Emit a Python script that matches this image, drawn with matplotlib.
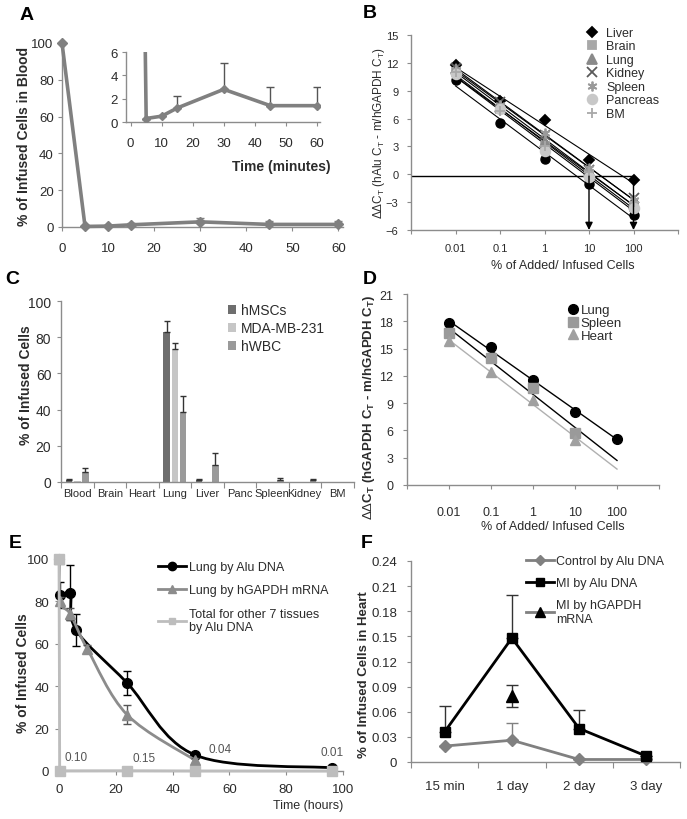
import numpy as np
import matplotlib
matplotlib.use('Agg')
import matplotlib.pyplot as plt
from matplotlib import font_manager
from matplotlib.path import Path
from matplotlib.patches import PathPatch, Patch
from matplotlib.lines import Line2D
from matplotlib.ticker import FixedLocator, NullLocator, FuncFormatter

plt.rcParams['font.family'] = ['Liberation Sans', 'DejaVu Sans']
plt.rcParams['mathtext.fontset'] = 'custom'
plt.rcParams['mathtext.rm'] = 'Liberation Sans'
plt.rcParams['mathtext.it'] = 'Liberation Sans:italic'
plt.rcParams['mathtext.bf'] = 'Liberation Sans:bold'

try:
    font_manager.findfont('Liberation Sans Narrow', fallback_to_default=False)
    NARROW = 'Liberation Sans Narrow'
    NARROW_FS = 9.3
except Exception:
    NARROW = 'Liberation Sans'
    NARROW_FS = 8

# ---------------- data ----------------
# A
time_a = [0, 5, 10, 15, 30, 45, 60]
blood_a = [100, 0.3, 0.5, 1.2, 2.8, 1.4, 1.4]
blood_err_a = [0, 0, 0, 1.0, 2.3, 1.6, 1.6]

# B
pct_b = [0.01, 0.1, 1, 10, 100]
liver_b = [11.8, 7.9, 5.8, 1.5, -0.6]
brain_b = [11.0, 7.0, 3.0, 0.0, -3.5]
lung_b = [11.3, 7.2, 3.5, 0.3, -3.2]
kidney_b = [11.5, 7.8, 4.2, 0.5, -2.5]
spleen_b = [11.2, 7.5, 4.5, 0.7, -2.8]
pancreas_b = [10.8, 7.0, 2.5, -0.3, -3.6]
bm_b = [11.0, 6.8, 3.0, 0.2, -3.0]
unlabeled_b = [10.2, 5.5, 1.6, -1.0, -4.4]
cutoff_b = -0.2
arrow_x_b = [10, 100]

# C
cats_c = ['Blood', 'Brain', 'Heart', 'Lung', 'Liver', 'Panc', 'Spleen', 'Kidney', 'BM']
hmsc_c = [1.0, 0, 0, 83.0, 1.0, 0, 0, 0, 0]
hmsc_err_c = [0.6, 0, 0, 6.0, 0.6, 0, 0, 0, 0]
mda_c = [0.5, 0, 0, 73.5, 0, 0, 0, 0, 0]
mda_err_c = [0, 0, 0, 3.5, 0, 0, 0, 0, 0]
hwbc_c = [5.5, 0, 0, 38.5, 9.5, 0, 1.0, 1.0, 0]
hwbc_err_c = [2.5, 0, 0, 9.0, 6.5, 0, 1.2, 0.6, 0]

# D
pct_d = [0.01, 0.1, 1, 10, 100]
lung_d = [17.8, 15.2, 11.5, 8.0, 5.1]
spleen_d = [16.7, 14.0, 10.7, 5.7]
heart_d = [15.8, 12.4, 9.3, 5.0]

# E
t_alu_e = [0, 0.25, 4, 6, 24, 48, 96]
lung_alu_e = [100, 83, 84, 66.5, 41.5, 7.5, 1.5]
lung_alu_err_e = [0, 6, 13, 7.5, 5.5, 1, 0.5]
t_gapdh_e = [0, 0.25, 4, 10, 24, 48]
lung_gapdh_e = [100, 80, 74, 57.5, 26.5, 5]
lung_gapdh_err_e = [0, 2, 3, 2, 4.5, 1]
t_total_e = [0, 0.25, 24, 48, 96]
total_e = [100, 0.10, 0.15, 0.04, 0.01]

# F
cats_f = ['15 min', '1 day', '2 day', '3 day']
control_f = [0.019, 0.026, 0.003, 0.003]
control_err_f = [0, 0.020, 0, 0]
mi_alu_f = [0.036, 0.148, 0.040, 0.007]
mi_alu_err_f = [0.031, 0.052, 0.022, 0]
mi_gapdh_f = [np.nan, 0.079, np.nan, np.nan]
mi_gapdh_err_f = [0, 0.013, 0, 0]

# ---------------- helpers ----------------
W, H = 687, 820
fig = plt.figure(figsize=(6.87, 8.2), dpi=100)
SPINE = '#8c8c8c'
TXT = '#2b2b2b'


def add_ax(x0, x1, y_top, y_bot):
    return fig.add_axes([x0 / W, 1 - y_bot / H, (x1 - x0) / W, (y_bot - y_top) / H])


def style(ax, fs, xpad=4, ypad=3):
    for s in ['top', 'right']:
        ax.spines[s].set_visible(False)
    for s in ['left', 'bottom']:
        ax.spines[s].set_color(SPINE)
        ax.spines[s].set_linewidth(1.0)
    ax.tick_params(colors=SPINE, labelcolor=TXT, labelsize=fs, length=3, width=0.8, direction='out')
    ax.tick_params(axis='x', pad=xpad)
    ax.tick_params(axis='y', pad=ypad)
    ax.set_facecolor('none')


def ftext(x, y, s, **kw):
    kw.setdefault('color', TXT)
    fig.text(x / W, 1 - y / H, s, **kw)


def smooth_path(x, y):
    x = np.asarray(x, float)
    y = np.asarray(y, float)
    n = len(x)
    verts = [(x[0], y[0])]
    codes = [Path.MOVETO]
    for i in range(n - 1):
        p0 = np.array([x[max(i - 1, 0)], y[max(i - 1, 0)]])
        p1 = np.array([x[i], y[i]])
        p2 = np.array([x[i + 1], y[i + 1]])
        p3 = np.array([x[min(i + 2, n - 1)], y[min(i + 2, n - 1)]])
        c1 = p1 + (p2 - p0) / 6.0
        c2 = p2 - (p3 - p1) / 6.0
        verts += [tuple(c1), tuple(c2), tuple(p2)]
        codes += [Path.CURVE4] * 3
    return Path(verts, codes)


def upper_err(vals):
    return [np.zeros(len(vals)), vals]


# ---------------- panel A ----------------
axA = add_ax(62, 343, 44, 228)
style(axA, 9.5, xpad=8, ypad=3)
axA.errorbar(time_a, blood_a, yerr=upper_err(blood_err_a), color='#808080', lw=2.6,
             marker='D', ms=5, ecolor='#808080', elinewidth=1.2, capsize=3, clip_on=False, zorder=3)
axA.set_xlim(0, 61)
axA.set_ylim(0, 100)
axA.set_xticks(range(0, 61, 10))
axA.set_yticks(range(0, 101, 20))

axAi = add_ax(126, 320, 53, 123)
style(axAi, 9.5, xpad=8, ypad=3)
axAi.errorbar(time_a, blood_a, yerr=upper_err(blood_err_a), color='#808080', lw=2.6,
              marker='D', ms=4.5, ecolor='#555555', elinewidth=1.0, capsize=3, zorder=3)
axAi.set_xlim(-1.5, 61)
axAi.set_ylim(0, 6)
axAi.set_xticks(range(0, 61, 10))
axAi.set_yticks([0, 2, 4, 6])
ftext(281, 167, 'Time (minutes)', ha='center', va='center', fontsize=10, fontweight='bold')
ftext(24, 136, '% of Infused Cells in Blood', rotation=90, ha='center', va='center',
      fontsize=10, fontweight='bold')

# ---------------- panel B ----------------
axB = add_ax(411, 678, 36, 231)
style(axB, 8, xpad=6, ypad=6)
axB.set_xscale('log')
series_b = [
    (liver_b, 'Liver', 'D', 'black', 5.5),
    (brain_b, 'Brain', 's', '#a8a8a8', 5.5),
    (lung_b, 'Lung', '^', '#8a8a8a', 6.5),
    (kidney_b, 'Kidney', 'x', '#5a5a5a', 7),
    (spleen_b, 'Spleen', (6, 2, 0), '#9a9a9a', 7),
    (pancreas_b, 'Pancreas', 'o', '#c8c8c8', 7),
    (bm_b, 'BM', '+', '#a8a8a8', 7),
]
lx = np.log10(pct_b)
xs_b = np.array([pct_b[0], pct_b[-1]])
for vals in [v[0] for v in series_b] + [unlabeled_b]:
    coef = np.polyfit(lx, vals, 1)
    axB.plot(xs_b, np.polyval(coef, np.log10(xs_b)), color='black', lw=0.8, zorder=2)
handles_b = []
axB.plot(pct_b, unlabeled_b, 'o', color='black', ms=6.5, zorder=3, clip_on=False)
for vals, lab, mk, col, ms in series_b:
    axB.plot(pct_b, vals, linestyle='none', marker=mk, color=col, ms=ms, mew=1.3, zorder=3,
             clip_on=False)
    handles_b.append(Line2D([], [], linestyle='none', marker=mk, color=col, ms=ms, mew=1.3, label=lab))
axB.plot([1e-3, arrow_x_b[-1]], [cutoff_b, cutoff_b], color='black', lw=1.0, zorder=2)
for xa in arrow_x_b:
    axB.annotate('', xy=(xa, -6), xytext=(xa, cutoff_b),
                 arrowprops=dict(arrowstyle='-|>', color='black', lw=1.0, mutation_scale=11,
                                 shrinkA=0, shrinkB=0), annotation_clip=False, zorder=4)
axB.set_xlim(1e-3, 1e3)
axB.set_ylim(-6, 15)
axB.xaxis.set_major_locator(FixedLocator([1e-3, 1e-2, 1e-1, 1, 10, 100, 1e3]))
axB.xaxis.set_minor_locator(NullLocator())
axB.set_xticklabels(['', '0.01', '0.1', '1', '10', '100', ''])
axB.set_yticks(range(-6, 16, 3))
axB.legend(handles=handles_b, loc='upper left', bbox_to_anchor=(586 / W, 1 - 28 / H),
           bbox_transform=fig.transFigure, frameon=False, fontsize=9, handlelength=1.0,
           handletextpad=0.6, labelspacing=0.12, borderpad=0, borderaxespad=0,
           labelcolor=TXT)
ftext(563, 266, '% of Added/ Infused Cells', ha='center', va='center', fontsize=9)
ftext(379, 133, r'$\Delta\Delta$C$_\mathrm{T}$ (hAlu C$_\mathrm{T}$ - m/hGAPDH C$_\mathrm{T}$)',
      rotation=90, ha='center', va='center', fontsize=8.5)

# ---------------- panel C ----------------
axC = add_ax(61, 353.5, 302, 483)
style(axC, 10, xpad=3, ypad=4)
xc = np.arange(len(cats_c))
bw = 0.2
cols_c = ['#6e6e6e', '#c6c6c6', '#9a9a9a']
labs_c = ['hMSCs', 'MDA-MB-231', 'hWBC']
for off, vals, errs, col in zip([-0.25, 0, 0.25], [hmsc_c, mda_c, hwbc_c],
                               [hmsc_err_c, mda_err_c, hwbc_err_c], cols_c):
    axC.bar(xc + off, vals, width=bw, color=col, zorder=2)
    e = np.array(errs, float)
    m = e > 0
    axC.errorbar((xc + off)[m], np.array(vals)[m], yerr=upper_err(e[m]), fmt='none',
                 ecolor='#333333', elinewidth=1.0, capsize=2.5, zorder=3)
axC.set_xlim(-0.5, len(cats_c) - 0.5)
axC.set_ylim(0, 100)
axC.set_yticks(range(0, 101, 20))
axC.set_xticks(xc)
axC.set_xticklabels(cats_c, family=[NARROW, 'DejaVu Sans'], fontsize=NARROW_FS)
axC.tick_params(axis='x', which='major', length=0, pad=4)
axC.xaxis.set_minor_locator(FixedLocator(np.arange(-0.5, len(cats_c), 1.0)))
axC.tick_params(axis='x', which='minor', length=4, color=SPINE, width=0.8)
handles_c = [Patch(facecolor=c, label=l) for c, l in zip(cols_c, labs_c)]
axC.legend(handles=handles_c, loc='upper left', bbox_to_anchor=(228 / W, 1 - 304 / H),
           bbox_transform=fig.transFigure, frameon=False, fontsize=10, handlelength=0.6,
           handleheight=0.6, handletextpad=0.3, labelspacing=0.3, borderpad=0,
           borderaxespad=0, labelcolor=TXT)
ftext(26, 385, '% of Infused Cells', rotation=90, ha='center', va='center',
      fontsize=10, fontweight='bold')

# ---------------- panel D ----------------
axD = add_ax(407, 659, 295, 486)
style(axD, 9, xpad=12, ypad=7)
axD.set_xscale('log')
xs_d = np.array([pct_d[0], pct_d[-1]])
for vals, col in [(lung_d, 'black'), (spleen_d, 'black'), (heart_d, '#b0b0b0')]:
    coef = np.polyfit(np.log10(pct_d[:len(vals)]), vals, 1)
    axD.plot(xs_d, np.polyval(coef, np.log10(xs_d)), color=col, lw=1.0, zorder=2)
handles_d = []
for vals, lab, mk, col, ms in [(lung_d, 'Lung', 'o', 'black', 7),
                               (spleen_d, 'Spleen', 's', '#9a9a9a', 6.5),
                               (heart_d, 'Heart', '^', '#a0a0a0', 7.5)]:
    axD.plot(pct_d[:len(vals)], vals, linestyle='none', marker=mk, color=col, ms=ms, zorder=3)
    handles_d.append(Line2D([], [], linestyle='none', marker=mk, color=col, ms=ms, label=lab))
axD.set_xlim(1e-3, 1e3)
axD.set_ylim(0, 21)
axD.xaxis.set_major_locator(FixedLocator([1e-3, 1e-2, 1e-1, 1, 10, 100, 1e3]))
axD.xaxis.set_minor_locator(NullLocator())
axD.set_xticklabels(['', '0.01', '0.1', '1', '10', '100', ''])
axD.set_yticks(range(0, 22, 3))
axD.legend(handles=handles_d, loc='upper left', bbox_to_anchor=(568 / W, 1 - 305 / H),
           bbox_transform=fig.transFigure, frameon=False, fontsize=9.5, handlelength=0.8,
           handletextpad=0.15, labelspacing=0.05, borderpad=0, borderaxespad=0,
           labelcolor=TXT)
ftext(553, 527, '% of Added/ Infused Cells', ha='center', va='center', fontsize=9)
ftext(369, 407, r'$\Delta\Delta$C$_\mathbf{T}$ (hGAPDH C$_\mathbf{T}$ - m/hGAPDH C$_\mathbf{T}$)',
      rotation=90, ha='center', va='center', fontsize=9.5, fontweight='bold')

# ---------------- panel E ----------------
axE = add_ax(59, 343, 560, 772)
style(axE, 9.5, xpad=6, ypad=4)
c_alu, c_gapdh, c_total = 'black', '#8c8c8c', '#bdbdbd'
axE.add_patch(PathPatch(smooth_path(t_alu_e, lung_alu_e), facecolor='none', edgecolor=c_alu,
                        lw=2.0, zorder=2))
axE.errorbar(t_alu_e, lung_alu_e, yerr=lung_alu_err_e, fmt='none', ecolor=c_alu,
             elinewidth=1.0, capsize=3, zorder=2)
axE.plot(t_alu_e, lung_alu_e, linestyle='none', marker='o', color=c_alu, ms=7, zorder=3,
         clip_on=False)
axE.add_patch(PathPatch(smooth_path(t_gapdh_e, lung_gapdh_e), facecolor='none',
                        edgecolor=c_gapdh, lw=2.0, zorder=4))
axE.errorbar(t_gapdh_e, lung_gapdh_e, yerr=lung_gapdh_err_e, fmt='none', ecolor='#555555',
             elinewidth=1.0, capsize=3, zorder=4)
axE.plot(t_gapdh_e, lung_gapdh_e, linestyle='none', marker='^', color=c_gapdh, ms=7, zorder=5,
         clip_on=False)
axE.plot(t_total_e, total_e, color=c_total, lw=2.0, marker='s', ms=6.5, zorder=6, clip_on=False)
offsets_e = [(12, 10), (12, 9), (18, 16), (0, 14)]
for xv, yv, off in zip(t_total_e[1:], total_e[1:], offsets_e):
    axE.annotate(f'{yv:.2f}', xy=(xv, yv), xytext=off, textcoords='offset points',
                 ha='center', va='center', fontsize=8.5, color='#555555')
axE.set_xlim(0, 100)
axE.set_ylim(0, 100)
axE.set_xticks(range(0, 101, 20))
axE.set_yticks(range(0, 101, 20))
handles_e = [
    Line2D([], [], color=c_alu, lw=2, marker='o', ms=6, label='Lung by Alu DNA'),
    Line2D([], [], color=c_gapdh, lw=2, marker='^', ms=6, label='Lung by hGAPDH mRNA'),
    Line2D([], [], color=c_total, lw=2, marker='s', ms=5,
           label='Total for other 7 tissues\nby Alu DNA'),
]
axE.legend(handles=handles_e, loc='upper left', bbox_to_anchor=(158 / W, 1 - 562 / H),
           bbox_transform=fig.transFigure, frameon=False, fontsize=9, handlelength=2.2,
           handletextpad=0.25, labelspacing=0.9, borderpad=0, borderaxespad=0,
           labelcolor=TXT)
ftext(343, 806, 'Time (hours)', ha='right', va='center', fontsize=9)
ftext(23, 673, '% of Infused Cells', rotation=90, ha='center', va='center',
      fontsize=10, fontweight='bold')

# ---------------- panel F ----------------
axF = add_ax(411, 680, 562, 763)
style(axF, 9.5, xpad=13, ypad=7)
xf = np.arange(len(cats_f))
axF.errorbar(xf, control_f, yerr=upper_err(control_err_f), color='#808080', lw=2.0,
             marker='D', ms=6, ecolor='#808080', elinewidth=1.0, capsize=4, zorder=3,
             clip_on=False)
axF.errorbar(xf, mi_alu_f, yerr=upper_err(mi_alu_err_f), color='black', lw=2.0,
             marker='s', ms=7, ecolor='#333333', elinewidth=1.0, capsize=4, zorder=4,
             clip_on=False)
axF.errorbar(xf, mi_gapdh_f, yerr=mi_gapdh_err_f, color='black', lw=0, marker='^', ms=8,
             ecolor='#333333', elinewidth=1.0, capsize=4, zorder=5)
axF.set_xlim(-0.5, len(cats_f) - 0.5)
axF.set_ylim(0, 0.24)
axF.set_yticks(np.arange(0, 0.241, 0.03))
axF.yaxis.set_major_formatter(FuncFormatter(lambda v, p: '0' if abs(v) < 1e-9 else f'{v:.2f}'))
axF.set_xticks(xf)
axF.set_xticklabels(cats_f)
axF.tick_params(axis='x', which='major', length=0)
axF.xaxis.set_minor_locator(FixedLocator(np.arange(-0.5, len(cats_f), 1.0)))
axF.tick_params(axis='x', which='minor', length=4, color=SPINE, width=0.8)
handles_f = [
    Line2D([], [], color='#808080', lw=2, marker='D', ms=5, label='Control by Alu DNA'),
    Line2D([], [], color='black', lw=2, marker='s', ms=6, label='MI by Alu DNA'),
    Line2D([], [], color='#808080', lw=2, marker='^', ms=7, mfc='black', mec='black',
           label='MI by hGAPDH\nmRNA'),
]
axF.legend(handles=handles_f, loc='upper left', bbox_to_anchor=(526 / W, 1 - 556 / H),
           bbox_transform=fig.transFigure, frameon=False, fontsize=9, handlelength=2.2,
           handletextpad=0.2, labelspacing=0.8, borderpad=0, borderaxespad=0,
           labelcolor=TXT)
ftext(364, 675, '% of Infused Cells in Heart', rotation=90, ha='center', va='center',
      fontsize=9.5, fontweight='bold')

# ---------------- panel letters ----------------
for lab, x, y in [('A', 27, 15), ('B', 370, 13), ('C', 12, 280), ('D', 370, 279),
                  ('E', 15, 544), ('F', 367, 544)]:
    ftext(x, y, lab, ha='center', va='center', fontsize=14, fontweight='bold', color='black')

fig.savefig('out.png', dpi=100)
